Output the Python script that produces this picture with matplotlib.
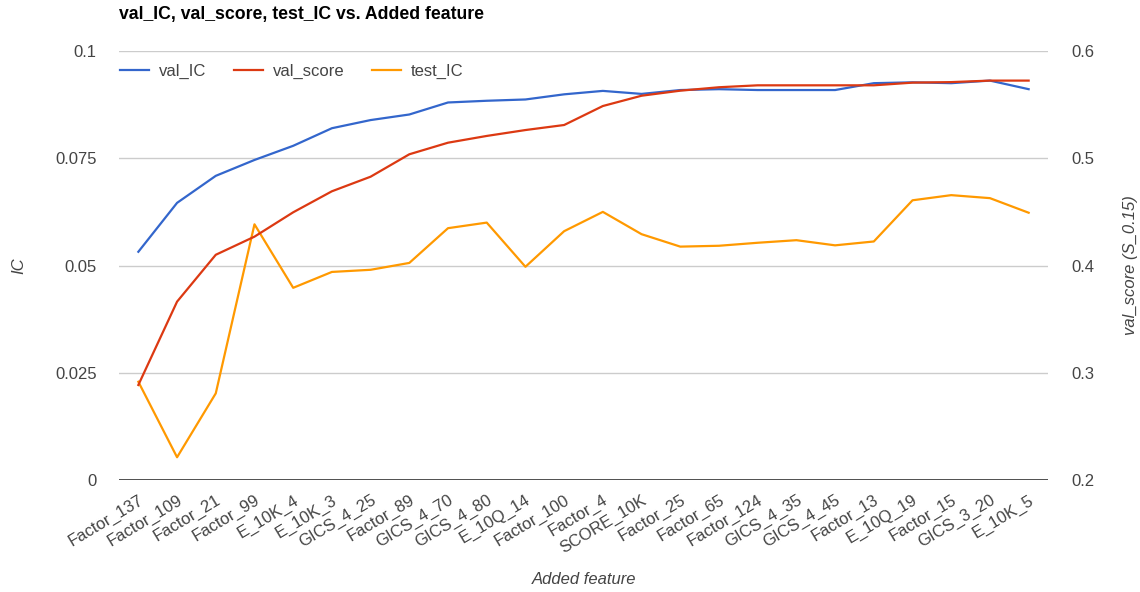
import matplotlib
matplotlib.use("Agg")
import matplotlib.pyplot as plt
import numpy as np

features = ["Factor_137", "Factor_109", "Factor_21", "Factor_99", "E_10K_4", "E_10K_3",
            "GICS_4_25", "Factor_89", "GICS_4_70", "GICS_4_80", "E_10Q_14", "Factor_100",
            "Factor_4", "SCORE_10K", "Factor_25", "Factor_65", "Factor_124", "GICS_4_35",
            "GICS_4_45", "Factor_13", "E_10Q_19", "Factor_15", "GICS_3_20", "E_10K_5"]
val_IC = [0.0532, 0.0646, 0.0709, 0.0746, 0.0779, 0.0820, 0.0839, 0.0852, 0.0880, 0.0884,
          0.0887, 0.0899, 0.0907, 0.0900, 0.0909, 0.0911, 0.0909, 0.0909, 0.0909, 0.0925,
          0.0927, 0.0925, 0.0931, 0.0911]
val_score = [0.2886, 0.3663, 0.4100, 0.4269, 0.4496, 0.4692, 0.4828, 0.5037, 0.5145, 0.5208,
             0.5263, 0.5310, 0.5487, 0.5583, 0.5630, 0.5662, 0.5680, 0.5680, 0.5680, 0.5680,
             0.5705, 0.5710, 0.5724, 0.5724]
test_IC = [0.0229, 0.0053, 0.0202, 0.0596, 0.0448, 0.0485, 0.0490, 0.0506, 0.0587, 0.0600,
           0.0497, 0.0580, 0.0625, 0.0573, 0.0544, 0.0546, 0.0553, 0.0559, 0.0547, 0.0556,
           0.0652, 0.0664, 0.0657, 0.0623]
ic_ticks = [0, 0.025, 0.05, 0.075, 0.1]
ic_ticklabels = ["0", "0.025", "0.05", "0.075", "0.1"]
score_ticks = [0.2, 0.3, 0.4, 0.5, 0.6]

plt.rcParams['font.family'] = ['Liberation Sans', 'DejaVu Sans']
BLUE, RED, ORANGE = "#3366cc", "#dc3912", "#ff9900"
TXT = "#444444"
FS = 12

W, H = 1140, 592
fig = plt.figure(figsize=(W / 100, H / 100), dpi=100)
ax = fig.add_axes([119 / W, 1 - 480 / H, 929 / W, 429 / H])
ax2 = ax.twinx()

x = np.arange(len(features))
l1, = ax.plot(x, val_IC, color=BLUE, lw=1.6, label="val_IC", zorder=3)
l2, = ax2.plot(x, val_score, color=RED, lw=1.6, label="val_score", zorder=3)
l3, = ax.plot(x, test_IC, color=ORANGE, lw=1.6, label="test_IC", zorder=4)

ax.set_xlim(-0.5, len(features) - 0.5)
ax.set_ylim(0, 0.1)
ax2.set_ylim(0.2, 0.6)
ax.set_yticks(ic_ticks)
ax.set_yticklabels(ic_ticklabels)
ax2.set_yticks(score_ticks)
ax2.set_yticklabels([f"{v:g}" for v in score_ticks])

ax.grid(axis='y', color="#cccccc", lw=1)
ax.set_axisbelow(True)
for a in (ax, ax2):
    for s in a.spines.values():
        s.set_visible(False)
    a.tick_params(length=0, colors=TXT, labelsize=FS)
ax.axhline(0, color="#333333", lw=1.2, zorder=2)

ax.set_xticks(x)
ax.set_xticklabels(features, rotation=31, ha='right', rotation_mode='anchor', fontsize=FS, color=TXT)
ax.tick_params(axis='x', pad=9)
ax.tick_params(axis='y', pad=16)
ax2.tick_params(axis='y', pad=17)

ax.set_xlabel("Added feature", fontstyle='italic', fontsize=FS, color=TXT, va='center')
ax.xaxis.set_label_coords((584 - 119) / 929, (480 - 580) / 429)
ax.set_ylabel("IC", fontstyle='italic', fontsize=FS, color=TXT, va='center')
ax.yaxis.set_label_coords((19 - 119) / 929, 0.5)
ax2.set_ylabel("val_score (S_0.15)", fontstyle='italic', fontsize=FS, color=TXT, va='center')
ax2.yaxis.set_label_coords((1131 - 119) / 929, 0.5)

fig.text(119 / W, 1 - 15 / H, "val_IC, val_score, test_IC vs. Added feature",
         fontsize=12.7, fontweight='bold', color="#000000", va='center', ha='left')

leg = ax.legend(handles=[l1, l2, l3], loc='upper left', bbox_to_anchor=(-6 / 929, 0.985),
                ncol=3, frameon=False, fontsize=FS, handlelength=1.75, columnspacing=1.65,
                handletextpad=0.6, borderaxespad=0)
for t in leg.get_texts():
    t.set_color(TXT)

fig.savefig("out.png", dpi=100)
